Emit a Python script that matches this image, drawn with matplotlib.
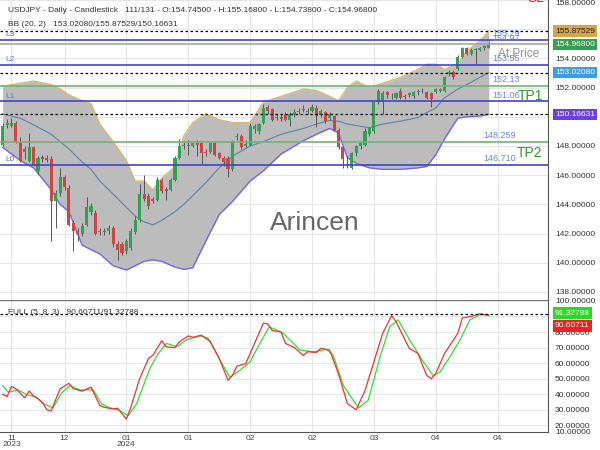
import matplotlib
matplotlib.use("Agg")
import matplotlib.pyplot as plt
import numpy as np

plt.rcParams['font.family'] = ['Liberation Sans', 'DejaVu Sans']

# daily candles, oldest first (111 bars)
opens = [148.1, 149.45, 149.4, 149.6, 148.3, 147.8, 147.0, 147.9, 146.3, 147.25,
         147.2, 147.1, 144.2, 144.8, 145.9, 145.1, 142.7, 142.2, 142.0, 142.6,
         143.5, 143.4, 142.1, 142.2, 142.2, 142.4, 141.3, 141.3, 140.8, 141.0,
         142.1, 142.9, 144.7, 144.6, 144.35, 144.3, 145.7, 145.05, 145.0, 145.7,
         147.2, 148.0, 148.1, 148.0, 148.2, 148.2, 147.6, 147.6, 148.2, 147.5,
         147.2, 147.2, 146.4, 148.6, 148.7, 148.0, 148.1, 149.15, 149.0, 149.6,
         150.7, 150.5, 150.0, 150.0, 150.2, 149.8, 150.2, 150.35, 150.45, 150.4,
         150.4, 150.6, 150.1, 150.3, 149.9, 150.05, 149.1, 147.9, 146.75, 146.5,
         147.5, 148.0, 148.1, 148.8, 149.0, 151.0, 151.0, 151.7, 151.45, 151.3,
         151.8, 151.4, 151.5, 151.4, 151.7, 151.75, 151.7, 151.6, 151.7, 151.8,
         151.8, 152.95, 153.1, 153.3, 154.1, 154.7, 154.3, 154.65, 154.6, 154.7,
         154.745]
highs = [149.6, 149.85, 149.9, 149.7, 148.6, 148.0, 148.9, 148.0, 147.3, 147.4,
         147.4, 147.3, 145.0, 146.5, 146.0, 145.3, 142.9, 142.4, 142.7, 144.5,
         144.1, 143.6, 142.4, 142.4, 142.6, 142.5, 141.5, 141.4, 141.6, 142.4,
         143.2, 145.4, 146.0, 144.8, 144.5, 145.9, 145.8, 145.2, 145.8, 147.3,
         148.5, 148.3, 148.4, 148.3, 148.4, 148.3, 147.8, 148.3, 148.3, 147.6,
         147.3, 147.3, 148.4, 148.9, 148.8, 148.4, 149.6, 149.5, 149.6, 150.85,
         150.8, 150.6, 150.2, 150.2, 150.3, 150.3, 150.5, 150.6, 150.8, 150.6,
         150.85, 150.8, 150.5, 150.4, 150.3, 150.1, 149.2, 148.0, 147.3, 147.6,
         148.1, 148.3, 149.2, 149.3, 151.1, 151.9, 151.8, 151.8, 151.6, 151.7,
         151.95, 151.55, 151.7, 151.8, 151.9, 151.95, 151.8, 151.7, 152.0, 152.0,
         152.8, 153.2, 153.2, 154.2, 154.8, 154.8, 154.7, 154.7, 154.8, 154.95,
         155.168]
lows = [148.0, 149.2, 149.3, 148.2, 146.9, 147.1, 146.9, 146.6, 146.1, 146.9,
        146.9, 141.5, 142.4, 144.6, 145.0, 142.5, 140.8, 141.5, 141.8, 142.5,
        143.3, 141.9, 141.9, 141.9, 142.0, 141.1, 140.2, 140.5, 140.6, 140.9,
        142.0, 142.8, 144.2, 143.7, 144.1, 144.2, 144.8, 144.3, 144.9, 145.6,
        147.1, 147.8, 147.4, 147.9, 147.3, 146.8, 147.3, 147.5, 147.3, 147.1,
        146.6, 145.9, 146.3, 148.4, 147.8, 147.9, 148.0, 148.9, 148.8, 149.5,
        150.2, 149.7, 149.8, 149.7, 149.7, 149.4, 150.0, 150.2, 150.3, 150.2,
        150.3, 149.3, 150.0, 149.6, 149.8, 149.0, 147.8, 146.5, 146.5, 146.4,
        147.3, 147.8, 148.0, 148.7, 148.9, 150.9, 150.2, 151.3, 151.2, 151.2,
        151.2, 151.2, 151.35, 151.3, 151.5, 151.6, 151.2, 150.7, 151.6, 151.7,
        151.7, 152.8, 152.6, 153.2, 154.0, 154.2, 154.2, 153.6, 154.5, 154.6,
        154.738]
closes = [149.4, 149.6, 149.6, 148.3, 147.0, 147.6, 147.9, 146.7, 147.2, 147.1,
          147.05, 144.2, 144.8, 145.9, 145.2, 142.6, 142.2, 141.95, 142.5, 143.8,
          143.9, 142.0, 142.2, 142.1, 142.4, 141.3, 140.9, 140.7, 141.5, 142.2,
          142.9, 144.7, 144.4, 143.9, 144.25, 145.7, 144.9, 144.9, 145.7, 147.2,
          148.0, 148.05, 148.0, 148.2, 148.1, 147.5, 147.55, 148.2, 147.4, 147.2,
          146.9, 146.4, 148.3, 148.7, 147.9, 148.15, 149.4, 149.35, 149.5, 150.6,
          150.4, 149.8, 149.95, 149.85, 149.8, 150.2, 150.35, 150.4, 150.5, 150.35,
          150.7, 150.05, 150.4, 149.7, 150.2, 149.1, 147.9, 147.1, 146.7, 147.5,
          148.0, 148.2, 149.0, 149.2, 151.0, 151.8, 151.6, 151.5, 151.4, 151.6,
          151.3, 151.35, 151.6, 151.7, 151.75, 151.8, 151.3, 151.2, 151.9, 151.9,
          152.7, 153.1, 152.7, 154.1, 154.7, 154.3, 154.6, 154.6, 154.7, 154.85,
          154.968]

# bollinger bands (20, 2) read at some bars
bandBars = [0, 4, 7, 11, 13, 15, 18, 20, 22, 25, 28, 30, 32, 34, 36, 39, 41, 43,
            46, 49, 52, 56, 59, 63, 68, 71, 74, 76, 78, 80, 83, 86, 90, 94, 96,
            98, 100, 103, 105, 108, 110]
bandUpper = [152.1, 152.3, 152.45, 152.2, 151.9, 151.5, 151.1, 150.9, 149.5, 148.3,
             147.0, 145.6, 145.6, 145.0, 145.8, 146.6, 148.7, 149.6, 150.2, 149.8,
             149.6, 149.6, 151.0, 151.4, 151.9, 151.8, 151.4, 151.1, 152.0, 152.45,
             152.0, 152.3, 152.7, 153.25, 153.6, 153.6, 153.25, 153.6, 154.5, 155.2,
             155.875]
bandMid = [150.2, 149.9, 149.45, 148.8, 148.3, 147.8, 146.9, 146.4, 145.6, 144.7,
           143.8, 143.2, 142.8, 142.6, 142.9, 143.5, 144.0, 144.6, 145.5, 146.5,
           147.3, 148.0, 148.3, 148.8, 149.2, 149.5, 149.75, 149.7, 149.5, 149.4,
           149.25, 149.5, 149.7, 149.95, 150.3, 150.6, 151.3, 151.9, 152.2, 152.7,
           153.02]
bandLower = [147.9, 147.0, 146.5, 145.0, 144.0, 143.5, 141.2, 140.9, 140.6, 139.8,
             139.5, 139.8, 140.1, 140.2, 140.1, 139.7, 139.55, 139.65, 141.5, 143.3,
             144.2, 145.6, 146.3, 147.45, 148.35, 148.8, 149.2, 148.9, 147.2, 146.8,
             146.5, 146.4, 146.4, 146.5, 146.6, 147.4, 148.5, 149.9, 150.0, 150.05,
             150.166]

# stochastic full (5, 8, 3)
kBars = [0, 1, 2, 3, 5, 6, 7, 9, 10, 11, 13, 15, 16, 18, 20, 22, 23, 25, 26, 28,
         29, 31, 33, 34, 36, 37, 39, 40, 42, 43, 45, 47, 49, 51, 52, 53, 55, 57,
         59, 60, 61, 63, 64, 66, 68, 69, 71, 72, 74, 76, 78, 80, 82, 84, 86, 88,
         89, 92, 94, 95, 96, 97, 98, 100, 103, 104, 106, 108, 110]
kValues = [40, 38.5, 45, 43.5, 37.7, 42, 39, 34.8, 30, 29.4, 43.5, 47, 43.5, 42,
           44.6, 32.7, 31.6, 30.5, 31, 24, 31.6, 50, 63, 65, 74.4, 70.5, 70, 73.8,
           77.5, 76.6, 78, 73.8, 63, 49, 52, 58, 59.7, 72.7, 85.7, 85.2, 81, 80,
           72.7, 70, 65, 67.3, 66.9, 69.5, 68.4, 53, 34, 30, 42.4, 60.8, 79.2, 90.5,
           86.8, 69.5, 66.2, 58.6, 52, 50, 53.3, 66.2, 79.2, 89, 90, 91.8, 90.607]
dBars = [0, 1.3, 3.5, 5.4, 7.7, 9.2, 11.4, 13.3, 15.2, 17.5, 20.5, 22.4, 24.3, 26.2,
         28.4, 30.3, 33.3, 35.2, 37.1, 39.4, 41.6, 44.6, 46.5, 49.2, 51.4, 53.7, 56,
         58.2, 60.3, 62, 63.5, 67.3, 70.3, 73.3, 74.8, 77.1, 80.5, 82.7, 85.4, 87.6,
         89.5, 92.1, 95.2, 97.4, 99, 101.2, 103.5, 105.7, 108, 110]
dValues = [45.6, 41.3, 42.8, 39.8, 38, 34, 31.2, 40.6, 45.6, 42.8, 42.8, 33.7, 31.2,
           29.9, 26.2, 33.7, 56.5, 66.2, 72.7, 70.5, 75, 77.5, 76, 62, 51, 55.4, 60.8,
           72.7, 83.2, 81.4, 79.2, 68.4, 67.3, 68.8, 65, 45.6, 31.2, 36, 64, 83.5,
           87.8, 74.9, 60.8, 52, 54.3, 64, 74.9, 87.8, 91.1, 91.328]

levelNames = ['L0', 'L1', 'L2', 'L3']
levelValues = [146.710, 151.06, 153.55, 155.29]
levelTexts = ['146.710', '151.06', '153.55', '155.29']
targetValues = [148.259, 152.13]
targetTexts = ['148.259', '152.13']
currentPrice = 154.968
bbLast = [153.02080, 155.87529, 150.16631]
stochLast = [90.60711, 91.32788]

dateTicks = [2, 14, 28, 42, 56, 70, 84, 98, 112]
dateLabels = ['11\n2023', '12', '01\n2024', '01', '02', '02', '03', '04', '04']
priceTicks = np.arange(138, 159, 2)
stochTicks = np.arange(20, 101, 10)


def px(x, y):
    # pixel position on the 600x450 canvas -> figure fraction
    return x / 600.0, 1 - y / 450.0


def boxLabel(ax, value, text, face, fg):
    ax.text(1.0128, value, text, transform=ax.get_yaxis_transform(), fontsize=6,
            color=fg, va='center', ha='left', clip_on=False, zorder=10,
            bbox=dict(facecolor=face, edgecolor='none', pad=1.6))


def main():
    fig = plt.figure(figsize=(6, 4.5), dpi=100)
    ax1 = fig.add_axes([0, 150 / 450, 548 / 600, 300 / 450])
    ax2 = fig.add_axes([0, 18 / 450, 548 / 600, 132 / 450])
    for ax in (ax1, ax2):
        ax.set_xlim(-0.6, 123.4)
        ax.yaxis.tick_right()
        ax.tick_params(axis='y', length=0, pad=5, labelsize=6, labelcolor='#333333')
        ax.set_xticks(dateTicks)
        ax.grid(True, color='#e6e6e6', lw=0.8)
        ax.set_axisbelow(True)
        for side in ('left', 'top', 'bottom'):
            ax.spines[side].set_visible(False)
        ax.spines['right'].set_color('#555555')

    # price panel
    ax1.set_ylim(137.45, 158.0)
    ax1.set_yticks(priceTicks)
    ax1.set_yticklabels(['%.5f' % v for v in priceTicks])
    ax1.get_yticklabels()[-1].set_verticalalignment('top')
    ax1.tick_params(axis='x', length=0, labelbottom=False)

    ax1.fill_between(bandBars, bandLower, bandUpper, color='#bcbcbc', lw=0, zorder=1)
    ax1.plot(bandBars, bandUpper, color='#d7b870', lw=1, zorder=2)
    ax1.plot(bandBars, bandLower, color='#7466e6', lw=1, zorder=2)
    ax1.plot(bandBars, bandMid, color='#5f82aa', lw=0.8, zorder=2)

    o = np.array(opens)
    c = np.array(closes)
    x = np.arange(len(o))
    up = c >= o
    ax1.vlines(x, lows, highs, color='#555555', lw=0.7, zorder=3)
    bodyLow = np.minimum(o, c)
    bodyH = np.maximum(np.abs(c - o), 0.05)
    ax1.bar(x[up], bodyH[up], bottom=bodyLow[up], width=0.7, color='#34a055', zorder=4)
    ax1.bar(x[~up], bodyH[~up], bottom=bodyLow[~up], width=0.7, color='#cc4646', zorder=4)

    for v in bbLast:
        ax1.axhline(v, color='black', lw=0.9, ls=(0, (2, 2)), zorder=5)
    for v in levelValues:
        ax1.axhline(v, color='#4343c8', lw=1.2, zorder=5)
    for v in targetValues:
        ax1.axhline(v, color='#6cb86c', lw=1.2, zorder=5)
    ax1.axhline(currentPrice, color='#a3a8a3', lw=1.2, zorder=5)

    tr = ax1.get_yaxis_transform()
    for name, v, t in zip(levelNames, levelValues, levelTexts):
        ax1.text(5 / 548, v + 0.12, name, transform=tr, fontsize=6, color='#5a78e0',
                 va='bottom', zorder=6)
        ax1.text(483 / 548 if len(t) > 6 else 492 / 548, v + 0.12, t, transform=tr,
                 fontsize=6.5, color='#6a86e0', va='bottom', zorder=6)
    for v, t in zip(targetValues, targetTexts):
        ax1.text(483 / 548 if len(t) > 6 else 492 / 548, v + 0.12, t, transform=tr,
                 fontsize=6.5, color='#6a86e0', va='bottom', zorder=6)
    ax1.text(492 / 548, currentPrice + 0.12, '%.2f' % currentPrice, transform=tr,
             fontsize=6.5, color='#6a86e0', va='bottom', zorder=6)

    fig.text(*px(519, 54), 'At Price', fontsize=8.5, color='#8f8f8f', ha='center', va='center')
    fig.text(*px(530, 96), 'TP1', fontsize=10, color='#2f9a2f', ha='center', va='center')
    fig.text(*px(530, 153), 'TP2', fontsize=10, color='#2f9a2f', ha='center', va='center')
    fig.text(*px(536, -2), 'SL', fontsize=10, color='#e02828', ha='center', va='center')
    fig.text(*px(315, 223), 'Arincen', fontsize=19, color='#666666', ha='center', va='center')

    fig.text(*px(8, 10), 'USDJPY - Daily - Candlestick   111/131 - O:154.74500 - '
             'H:155.16800 - L:154.73800 - C:154.96800', fontsize=6, color='#333333',
             va='center')
    fig.text(*px(8, 25), 'BB (20, 2)   %.5f/%.5f/%.5f' % tuple(bbLast), fontsize=6,
             color='#333333', va='center')

    boxLabel(ax1, bbLast[1], '%.5f' % bbLast[1], '#d8a545', '#222222')
    boxLabel(ax1, currentPrice, '%.5f' % currentPrice, '#34a050', 'white')
    boxLabel(ax1, bbLast[0], '%.5f' % bbLast[0], '#3a9cf0', 'white')
    boxLabel(ax1, bbLast[2], '%.5f' % bbLast[2], '#6d3df0', 'white')

    # stochastic panel
    ax2.set_ylim(15.7, 100.6)
    ax2.set_yticks(stochTicks)
    ax2.set_yticklabels(['%.5f' % v for v in stochTicks])
    ax2.spines['top'].set_visible(True)
    ax2.spines['top'].set_color('#777777')
    ax2.spines['bottom'].set_visible(True)
    ax2.spines['bottom'].set_color('#555555')
    ax2.set_xticklabels(dateLabels)
    ax2.tick_params(axis='x', length=0, pad=2, labelsize=6, labelcolor='#444444')
    for lab in ax2.get_xticklabels():
        lab.set_linespacing(0.9)

    ax2.plot(dBars, dValues, color='#33dd33', lw=0.9, zorder=3)
    ax2.plot(kBars, kValues, color='#ee3333', lw=0.9, zorder=4)
    ax2.axhline(stochLast[1], color='black', lw=0.9, ls=(0, (2, 2)), zorder=5)
    ax2.text(1.0128, 15.7, '10.00000', transform=ax2.get_yaxis_transform(), fontsize=6,
             color='#333333', va='center', clip_on=False)
    fig.text(*px(8, 313), 'FULL (5, 8, 3)   %.5f/%.5f' % tuple(stochLast), fontsize=6,
             color='#333333', va='center')
    boxLabel(ax2, 92.2, '%.5f' % stochLast[1], '#22dd22', 'white')
    boxLabel(ax2, 83.9, '%.5f' % stochLast[0], '#f02020', 'white')

    fig.savefig('out.png', dpi=100)


if __name__ == '__main__':
    main()
